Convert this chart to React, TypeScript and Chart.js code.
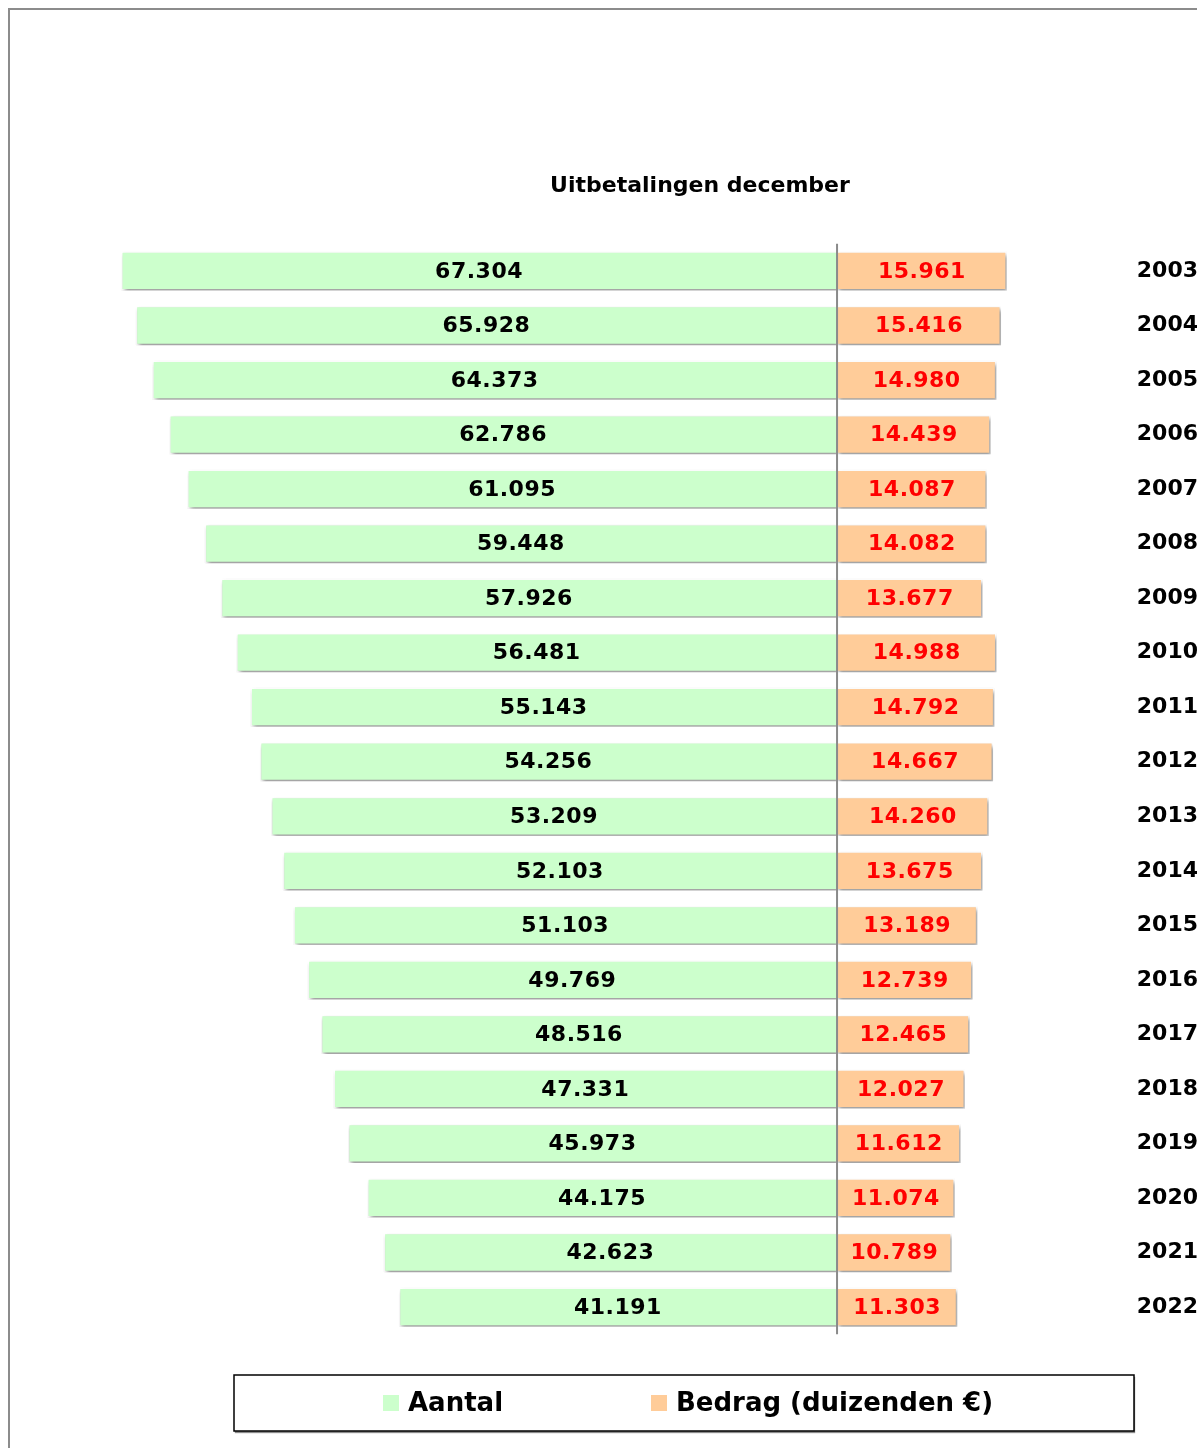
import React, { useEffect, useRef } from "react";
import { Chart, registerables } from "chart.js";

Chart.register(...registerables);

const chartTitle = "Uitbetalingen december";
const seriesNames = ["Aantal", "Bedrag (duizenden €)"];
const years = ["2003", "2004", "2005", "2006", "2007", "2008", "2009", "2010", "2011", "2012", "2013", "2014", "2015", "2016", "2017", "2018", "2019", "2020", "2021", "2022"];
const aantal = [67304, 65928, 64373, 62786, 61095, 59448, 57926, 56481, 55143, 54256, 53209, 52103, 51103, 49769, 48516, 47331, 45973, 44175, 42623, 41191];
const bedrag = [15961, 15416, 14980, 14439, 14087, 14082, 13677, 14988, 14792, 14667, 14260, 13675, 13189, 12739, 12465, 12027, 11612, 11074, 10789, 11303];

const GREEN = "#CCFFCC";
const ORANGE = "#FFCC99";
const FONT = "'DejaVu Sans', Verdana, sans-serif";

const fmt = (v: number) => String(Math.round(Math.abs(v))).replace(/\B(?=(\d{3})+(?!\d))/g, ".");

const CW = 1187;
const CH = 1438;

const decorPlugin = {
  id: "decor",
  beforeDatasetsDraw(chart: any) {
    const ctx = chart.ctx;
    ctx.save();
    ctx.shadowColor = "rgba(0,0,0,0.4)";
    ctx.shadowOffsetX = 2;
    ctx.shadowOffsetY = 3;
    ctx.shadowBlur = 4;
  },
  afterDatasetsDraw(chart: any) {
    const ctx = chart.ctx;
    ctx.restore();
    const area = chart.chartArea;
    const x0 = chart.scales.x.getPixelForValue(0);
    ctx.save();
    ctx.strokeStyle = "#8a8a8a";
    ctx.lineWidth = 2;
    ctx.beginPath();
    ctx.moveTo(x0, area.top);
    ctx.lineTo(x0, area.bottom);
    ctx.stroke();

    ctx.font = `bold 22px ${FONT}`;
    ctx.textAlign = "center";
    ctx.textBaseline = "middle";
    try { (ctx as any).letterSpacing = "0.5px"; } catch (e) {}
    chart.data.datasets.forEach((ds: any, di: number) => {
      const meta = chart.getDatasetMeta(di);
      ctx.fillStyle = di === 0 ? "#000000" : "#FF0000";
      meta.data.forEach((el: any, i: number) => {
        const cx = (el.x + el.base) / 2;
        ctx.fillText(fmt(ds.data[i]), cx, el.y + 1);
      });
    });
    ctx.restore();
  },
  afterDraw(chart: any) {
    const ctx = chart.ctx;
    ctx.save();
    // title
    ctx.font = `bold 22px ${FONT}`;
    ctx.fillStyle = "#000";
    ctx.textAlign = "center";
    ctx.textBaseline = "middle";
    ctx.fillText(chartTitle, 690, 176);

    // legend box
    const bx = 224, by = 1365, bw = 900, bh = 56;
    ctx.fillStyle = "#ffffff";
    ctx.shadowColor = "rgba(0,0,0,0.45)";
    ctx.shadowOffsetX = 1;
    ctx.shadowOffsetY = 2;
    ctx.shadowBlur = 1;
    ctx.fillRect(bx, by, bw, bh);
    ctx.shadowColor = "transparent";
    ctx.strokeStyle = "#000";
    ctx.lineWidth = 1.5;
    ctx.strokeRect(bx, by, bw, bh);

    ctx.font = `bold 26px ${FONT}`;
    ctx.textAlign = "left";
    ctx.textBaseline = "middle";
    const cy = by + bh / 2;
    const itemX = [373, 641];
    chart.data.datasets.forEach((ds: any, di: number) => {
      const x = itemX[di];
      ctx.fillStyle = ds.backgroundColor;
      ctx.fillRect(x, cy - 8, 16, 16);
      ctx.fillStyle = "#000";
      ctx.fillText(ds.label, x + 25, cy + 1);
    });
    ctx.restore();
  },
};

export default function App() {
  const ref = useRef<HTMLCanvasElement | null>(null);

  useEffect(() => {
    if (!ref.current) return;
    const chart = new Chart(ref.current, {
      type: "bar",
      data: {
        labels: years,
        datasets: [
          {
            label: seriesNames[0],
            data: aantal.map((v) => -v),
            backgroundColor: GREEN,
            borderColor: "#ffffff",
            borderWidth: 1.5,
          },
          {
            label: seriesNames[1],
            data: bedrag,
            backgroundColor: ORANGE,
            borderColor: "#ffffff",
            borderWidth: 1.5,
          },
        ],
      },
      options: {
        indexAxis: "y",
        responsive: false,
        animation: false,
        devicePixelRatio: 1,
        datasets: {
          bar: { barPercentage: 0.72, categoryPercentage: 1 },
        },
        layout: {
          padding: { top: 233.7, bottom: 113.7, left: 61.1, right: 0 },
        },
        plugins: {
          legend: { display: false },
          title: { display: false },
          tooltip: { enabled: false },
        },
        scales: {
          x: {
            type: "linear",
            stacked: true,
            min: -72000,
            max: 20000,
            display: false,
          },
          y: {
            type: "category",
            stacked: true,
            position: "right",
            grid: { display: false, drawTicks: false },
            border: { display: false },
            ticks: {
              padding: 87,
              crossAlign: "near",
              color: "#000",
              font: { family: FONT, weight: "bold", size: 22 },
            },
            afterFit: (axis: any) => {
              axis.width = 147.2;
            },
          },
        },
      },
      plugins: [decorPlugin],
    } as any);
    return () => chart.destroy();
  }, []);

  return (
    <div
      style={{
        position: "absolute",
        left: 8,
        top: 8,
        width: CW,
        height: CH,
        borderLeft: "2px solid #8c8c8c",
        borderTop: "2px solid #8c8c8c",
        background: "#fff",
      }}
    >
      <canvas ref={ref} width={CW} height={CH} style={{ display: "block", width: CW, height: CH }} />
    </div>
  );
}
